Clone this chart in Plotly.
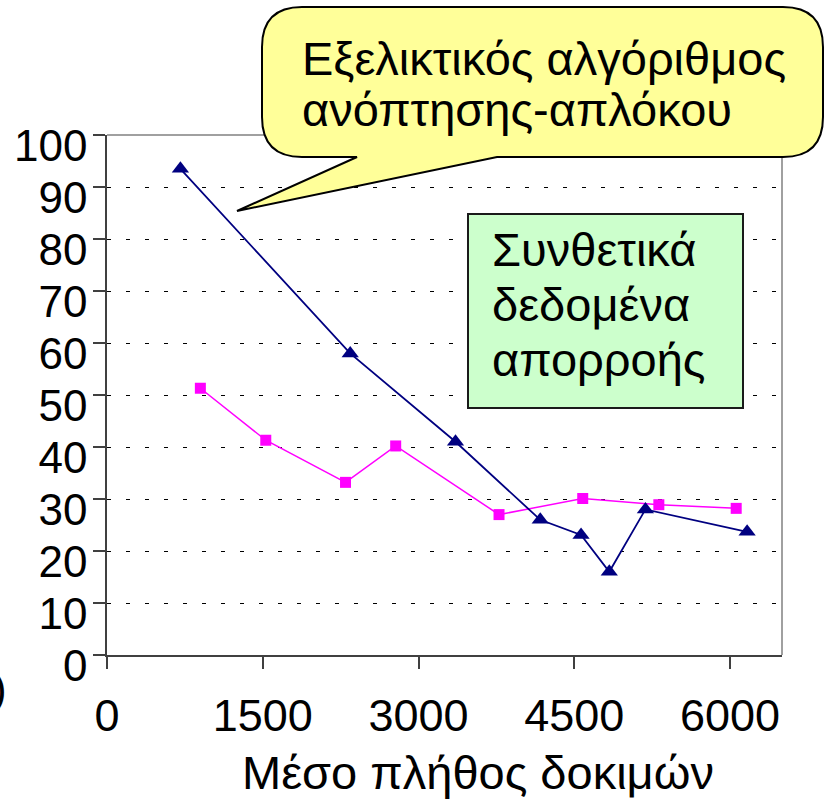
import plotly.graph_objects as go

# ---- data ----
anneal_x = [707, 2342, 3356, 4172, 4565, 4837, 5185, 6164]
anneal_y = [93.5, 58.0, 41.0, 26.0, 23.1, 16.0, 28.0, 23.7]
evo_x = [899, 1529, 2297, 2780, 3775, 4581, 5314, 6059]
evo_y = [51.3, 41.3, 33.2, 40.2, 27.0, 30.1, 28.9, 28.2]
x_ticks = [0, 1500, 3000, 4500, 6000]
y_ticks = [0, 10, 20, 30, 40, 50, 60, 70, 80, 90, 100]
x_title = "Μέσο πλήθος δοκιμών"
bubble_lines = ["Εξελικτικός αλγόριθμος", "ανόπτησης-απλόκου"]
box_lines = ["Συνθετικά", "δεδομένα", "απορροής"]

W, H = 825, 800
# plot area in screen pixels
L, R, T, B = 107, 782, 135, 655
NARROW = "Liberation Sans Narrow, Arial Narrow, Liberation Sans, sans-serif"
TXT = "Liberation Sans, Arial, sans-serif"


def px(x):
    return (x - L) / (R - L)


def py(y):
    return (B - y) / (B - T)


fig = go.Figure()
fig.add_trace(go.Scatter(
    x=evo_x, y=evo_y, mode="lines+markers",
    line=dict(color="#FF00FF", width=1.5),
    marker=dict(symbol="square", size=11, color="#FF00FF"),
    showlegend=False, cliponaxis=False))
fig.add_trace(go.Scatter(
    x=anneal_x, y=anneal_y, mode="lines+markers",
    line=dict(color="#000080", width=1.8),
    marker=dict(symbol="triangle-up", size=15, color="#000080"),
    showlegend=False, cliponaxis=False))

shapes = []
# top and right frame lines (grey)
shapes.append(dict(type="line", xref="paper", yref="paper", x0=0, x1=1, y0=1, y1=1,
                   line=dict(color="#808080", width=1.5), layer="above"))
shapes.append(dict(type="line", xref="paper", yref="paper", x0=1, x1=1, y0=0, y1=1,
                   line=dict(color="#808080", width=1.5), layer="above"))

# speech bubble
bx0, bx1, by0, by1, r = 262, 823, 7, 157, 40
tail = [(497, 157), (237, 211), (357, 157)]


def P(x, y):
    return f"{px(x):.5f},{py(y):.5f}"


path = (f"M{P(bx0 + r, by0)} L{P(bx1 - r, by0)} Q{P(bx1, by0)} {P(bx1, by0 + r)} "
        f"L{P(bx1, by1 - r)} Q{P(bx1, by1)} {P(bx1 - r, by1)} "
        f"L{P(*tail[0])} L{P(*tail[1])} L{P(*tail[2])} "
        f"L{P(bx0 + r, by1)} Q{P(bx0, by1)} {P(bx0, by1 - r)} "
        f"L{P(bx0, by0 + r)} Q{P(bx0, by0)} {P(bx0 + r, by0)} Z")
shapes.append(dict(type="path", xref="paper", yref="paper", path=path,
                   fillcolor="#FFFF99", line=dict(color="#000000", width=2), layer="above"))

# green box
shapes.append(dict(type="rect", xref="paper", yref="paper",
                   x0=px(468), x1=px(743), y0=py(408), y1=py(214),
                   fillcolor="#CCFFCC", line=dict(color="#1a1a1a", width=2), layer="above"))

annotations = []
for i, t in enumerate(bubble_lines):
    annotations.append(dict(xref="paper", yref="paper", x=px(300), y=py(58 + 52 * i),
                            xanchor="left", yanchor="middle", text=t, showarrow=False,
                            font=dict(family=TXT, size=47, color="#000000")))
for i, t in enumerate(box_lines):
    annotations.append(dict(xref="paper", yref="paper", x=px(490), y=py(249 + 55 * i),
                            xanchor="left", yanchor="middle", text=t, showarrow=False,
                            font=dict(family=TXT, size=47, color="#000000")))
annotations.append(dict(xref="paper", yref="paper", x=px(478), y=py(772),
                        xanchor="center", yanchor="middle", text=x_title, showarrow=False,
                        font=dict(family=NARROW, size=47, color="#000000")))
annotations.append(dict(xref="paper", yref="paper", x=px(9), y=py(688),
                        xanchor="right", yanchor="middle", text=")", showarrow=False,
                        font=dict(family=NARROW, size=44, color="#000000")))

fig.update_layout(
    template="none",
    width=W, height=H, autosize=False,
    margin=dict(l=L, r=W - R, t=T, b=H - B, pad=0),
    paper_bgcolor="white", plot_bgcolor="white",
    shapes=shapes, annotations=annotations,
    xaxis=dict(range=[0, 6500], tickvals=x_ticks, ticktext=[str(v) for v in x_ticks],
               automargin=False,
               ticks="outside", ticklen=12, tickwidth=1.5, tickcolor="#404040",
               showline=True, linecolor="#404040", linewidth=1.5,
               showgrid=False, zeroline=False,
               tickfont=dict(family=NARROW, size=45, color="#000000"),
               ticklabelstandoff=8),
    yaxis=dict(range=[0, 100], tickvals=y_ticks, ticktext=[str(v) for v in y_ticks],
               automargin=False,
               ticks="outside", ticklen=12, tickwidth=1.5, tickcolor="#404040",
               showline=True, linecolor="#404040", linewidth=1.5,
               showgrid=True, gridcolor="#000000", gridwidth=1, griddash="4px,15px",
               zeroline=False,
               tickfont=dict(family=NARROW, size=44, color="#000000"),
               ticklabelshift=11, ticklabelstandoff=-3),
)

fig.write_html(
    "out.html",
    config={"displayModeBar": False},
    post_script="document.body.style.margin='0';document.body.style.overflow='hidden';",
)
